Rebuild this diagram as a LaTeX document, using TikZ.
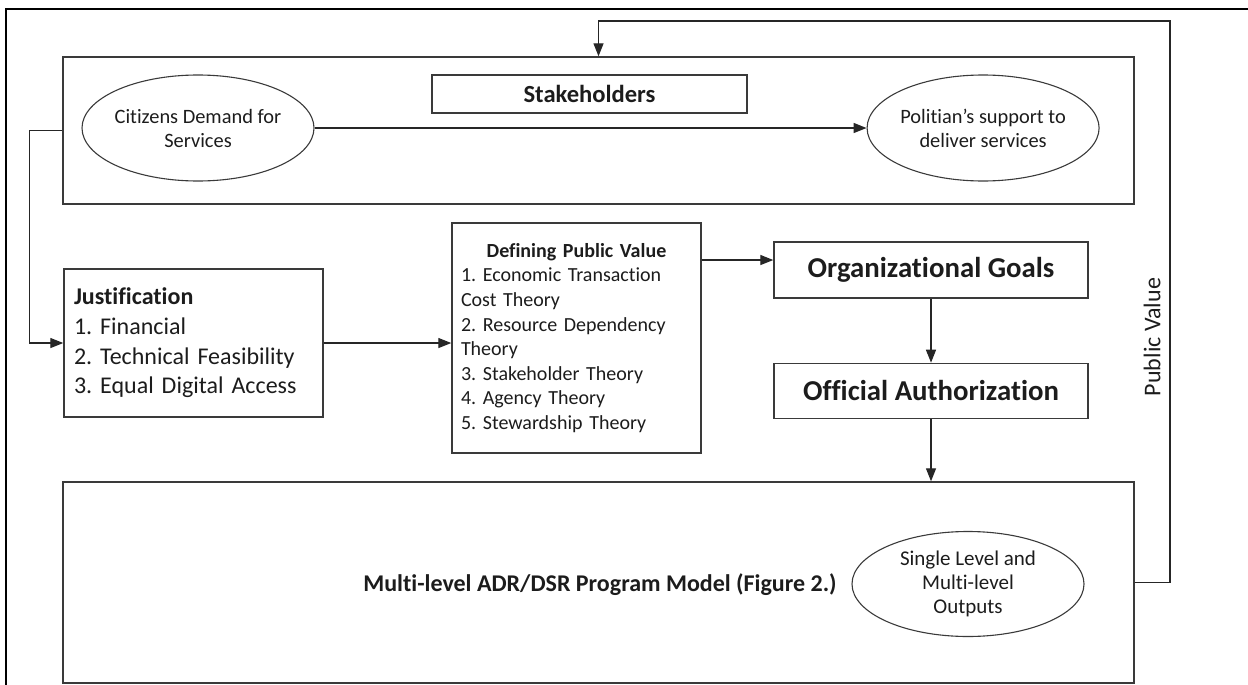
\documentclass[tikz,border=0pt]{standalone}
\usepackage{fontspec}
\setmainfont{Carlito}[Ligatures=CommonOff]
\usetikzlibrary{arrows.meta, positioning, shapes.geometric}
\definecolor{pvLine}{HTML}{3A3A3A}
\definecolor{pvText}{HTML}{1C1C1C}
\newcommand{\fsz}[2]{\fontsize{#1}{#2}\selectfont}
\frenchspacing

\begin{document}
\begin{tikzpicture}[
  x=0.5pt, y=-0.5pt, text=pvText,
  box/.style={draw=pvLine, line width=0.7pt, inner sep=0pt, align=center},
  bigbox/.style={box, minimum width=535.5pt},
  goalbox/.style={box, minimum width=157pt, font=\bfseries\fsz{14.4}{17}},
  oval/.style={draw=pvLine, line width=0.55pt, ellipse, minimum width=116pt,
               inner xsep=-8pt, inner ysep=0pt, align=center},
  ar/.style={-{Triangle[length=6.5pt, width=5pt]}, draw=black!85, line width=0.65pt},
]
\useasboundingbox (0,0) rectangle (1248,685);
\draw[black, line width=1.2pt] (6,685) -- (6,9) -- (1248,9);

% stakeholders band
\node[bigbox, minimum height=73.5pt] (stake) at (598.5,130.5) {};
\node[box, minimum width=157.5pt, minimum height=19pt, font=\bfseries\fsz{12.3}{14}]
  (stakelbl) at (589.5,94) {Stakeholders};
\node[oval, minimum height=53pt, font=\fsz{10.2}{12}] (cit) at (198,128)
  {Citizens Demand for\\Services};
\node[oval, minimum height=53pt, font=\fsz{10.2}{12}, right=276pt of cit] (pol)
  {Politian's support to\\deliver services};

% middle row
\node[box, minimum height=74pt, text width=119.5pt, inner xsep=5pt, align=left,
      font=\fsz{12}{14.8}] (just) at (193.5,343)
  {\textbf{Justification}\\1. Financial\\2. Technical Feasibility\\3. Equal Digital Access};
\node[box, minimum height=115pt, text width=115.5pt, inner xsep=4.5pt, align=left,
      font=\fsz{10}{12.3}] (def) at (576.5,338)
  {{\centering\bfseries Defining Public Value\par}
   1. Economic Transaction\\Cost Theory\\2. Resource Dependency\\Theory\\
   3. Stakeholder Theory\\4. Agency Theory\\5. Stewardship Theory};
\node[goalbox, minimum height=28pt] (org) at (931,270) {Organizational Goals};
\node[goalbox, minimum height=27.5pt, below=32pt of org] (auth) {Official Authorization};

% program model band
\node[bigbox, minimum height=100.5pt] (multi) at (598.5,582.5) {};
\node[font=\bfseries\fsz{12}{14}] (multilbl) at (600,585)
  {Multi-level ADR/DSR Program Model (Figure 2.)};
\node[oval, minimum height=52.5pt, font=\fsz{10.5}{12}] (outs) at (968,584)
  {Single Level and\\Multi-level\\Outputs};

\coordinate (fbtop) at (1170,21);
\node[rotate=90, font=\fsz{12}{14}] (pvlbl) at (1152,337) {Public Value};

\draw[ar] (cit) -- (pol);
\draw[ar] (stake.west) -- ++(-33,0) |- (just.west);
\draw[ar] (just.east) -- (just.east -| def.west);
\draw[ar] ([yshift=5pt]org.west -| def.east) -- ([yshift=5pt]org.west);
\draw[ar] (org) -- (auth);
\draw[ar] (auth.south) -- (auth.south |- multi.north);
\draw[ar] (multi.east) -| (fbtop) -| (stake.north);
\end{tikzpicture}
\end{document}
